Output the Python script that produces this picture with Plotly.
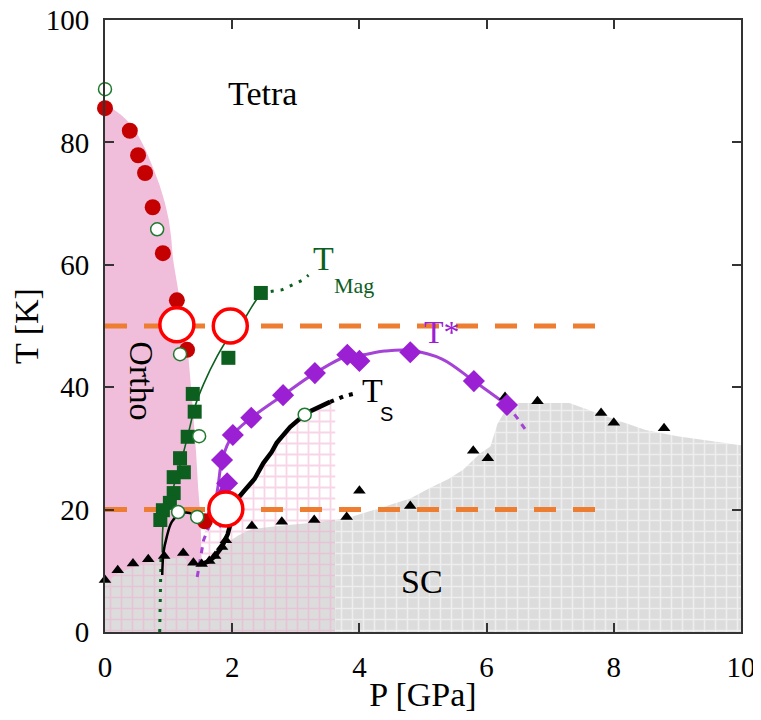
import numpy as np
import plotly.graph_objects as go

# ---------------- data (P in GPa, T in K) ----------------
red_P = [0.0, 0.39, 0.52, 0.63, 0.75, 0.91, 1.13, 1.29, 1.57]
red_T = [85.6, 81.9, 77.9, 75.0, 69.4, 61.9, 54.2, 46.1, 18.1]

gopen_P = [0.0, 0.82, 1.18, 1.48, 3.14, 1.15, 1.45]
gopen_T = [88.7, 65.8, 45.4, 32.0, 35.5, 19.6, 18.8]

gsq_P = [2.45, 1.94, 1.38, 1.41, 1.30, 1.18, 1.24, 1.08, 1.08, 1.02, 0.91, 0.87]
gsq_T = [55.4, 44.8, 38.9, 36.0, 31.9, 28.4, 26.1, 25.3, 22.7, 21.1, 19.9, 18.3]

dia_P = [1.81, 1.92, 1.84, 2.01, 2.30, 2.80, 3.30, 3.81, 4.00, 4.80, 5.80, 6.32]
dia_T = [18.8, 24.3, 28.1, 32.2, 35.0, 38.7, 42.3, 45.3, 44.3, 45.7, 41.0, 37.1]

tri_P = [0.0, 0.2, 0.44, 0.68, 0.93, 1.23, 1.39, 1.52, 1.64, 1.73, 1.84, 1.90,
         2.31, 2.78, 3.29, 3.80, 4.00, 4.80, 5.79, 6.02, 6.29, 6.80, 7.80, 8.00, 8.79]
tri_T = [8.5, 10.1, 11.2, 11.9, 12.4, 12.9, 11.3, 11.1, 11.6, 12.4, 13.9, 15.0,
         17.3, 18.0, 18.3, 18.8, 23.1, 20.6, 29.6, 28.4, 38.4, 37.7, 35.8, 34.2, 33.3]

big_P = [1.13, 1.97, 1.90]
big_T = [50.2, 50.0, 20.1]

# T_Mag line
mag_solid_P = [0.90, 0.92, 1.00, 1.10, 1.20, 1.30, 1.42, 1.55, 1.76, 1.95, 2.17, 2.30, 2.45]
mag_solid_T = [13.0, 18.0, 21.0, 24.5, 28.0, 32.0, 37.0, 40.5, 45.0, 48.2, 50.8, 53.0, 55.4]
mag_dot_top_P = [2.45, 2.78, 3.11, 3.20]
mag_dot_top_T = [55.4, 55.9, 57.5, 58.3]
mag_dot_bot_P = [0.86, 0.87, 0.88]
mag_dot_bot_T = [0.0, 7.0, 12.0]

# T* line
ts_star_P = [1.70, 1.78, 1.84, 2.01, 2.30, 2.80, 3.30, 3.81, 4.00, 4.40, 4.80, 5.30, 5.80, 6.32]
ts_star_T = [19.0, 24.0, 28.1, 32.2, 35.0, 38.7, 42.3, 45.1, 45.2, 45.9, 46.0, 44.6, 41.0, 37.1]
ts_star_dash_hi_P = [6.32, 6.48, 6.65]
ts_star_dash_hi_T = [37.1, 35.0, 32.5]
ts_star_dash_lo_P = [1.45, 1.55, 1.70]
ts_star_dash_lo_T = [9.0, 15.0, 19.0]
ts_star_wedge_P = [1.62, 1.78, 1.92]
ts_star_wedge_T = [18.5, 21.5, 24.5]

# Ts line
tsline_P = [1.52, 1.64, 1.73, 1.84, 1.93, 2.00, 2.07, 2.20, 2.35, 2.49, 2.62, 2.70, 2.91, 3.17, 3.54]
tsline_T = [11.1, 11.6, 12.4, 13.9, 16.0, 19.0, 21.6, 23.2, 25.0, 27.6, 29.4, 30.9, 33.5, 35.8, 37.6]
tsdot_P = [3.54, 3.75, 3.98]
tsdot_T = [37.6, 38.5, 39.1]
arc_P = [0.90, 0.92, 0.97, 1.05, 1.18, 1.30, 1.45]
arc_T = [9.3, 13.0, 15.5, 18.0, 19.3, 19.5, 19.0]

# region boundaries
ortho_P = [0.0, 0.0, 0.12, 0.25, 0.38, 0.5, 0.62, 0.75, 0.85, 0.94, 1.0, 1.04, 1.07,
           1.18, 1.30, 1.37, 1.43, 1.47, 1.50, 1.52, 1.53]
ortho_T = [0.0, 86.0, 85.5, 84.5, 83.2, 81.5, 79.2, 76.0, 73.3, 70.2, 67.5, 64.5, 61.0,
           54.2, 46.0, 38.0, 29.7, 23.0, 18.8, 11.8, 0.0]

sc_P = [0.0, 0.2, 0.44, 0.68, 0.93, 1.23, 1.39, 1.52, 1.64, 1.73, 1.84, 1.95, 2.10, 2.30,
        2.80, 3.30, 3.80, 4.30, 4.80, 5.10, 5.40, 5.63, 5.90, 6.06, 6.17, 6.33, 6.50, 7.30,
        8.00, 8.50, 9.00, 10.0]
sc_T = [8.0, 9.6, 10.6, 11.3, 11.9, 12.2, 10.8, 10.6, 11.1, 11.9, 13.3, 14.8, 15.8, 16.8,
        17.4, 17.9, 18.6, 20.2, 21.8, 23.5, 25.0, 26.5, 29.2, 30.3, 34.0, 36.8, 37.4, 37.4,
        34.8, 33.0, 32.0, 30.5]

pinkgrid_left_P = [1.50, 1.50, 1.60, 1.75, 1.90, 2.00]
pinkgrid_left_T = [0.0, 15.0, 17.0, 19.0, 20.0, 20.5]
split_P = 3.62

orange_P = [0.0, 7.86]
orange_T = [50.0, 20.0]

x_ticks = [0, 2, 4, 6, 8, 10]
y_ticks = [0, 20, 40, 60, 80, 100]

# ---------------- styles ----------------
SERIF = "Liberation Serif"
PINK = "#f0bedb"
PINKLINE = "#f0aacd"
GRAY = "#dcdcdc"
GREEN = "#0c5f1e"
PURPLE = "#9b20d4"
PURPLE_L = "#a443d6"
ORANGE = "#ed7d31"
RED = "#c40000"

fig = go.Figure()

# pink grid on white (below Ts)
pg_P = pinkgrid_left_P + tsline_P[6:] + [split_P, split_P]
pg_T = pinkgrid_left_T + tsline_T[6:] + [37.8, 0.0]
fig.add_trace(go.Scatter(x=pg_P, y=pg_T, mode="none", fill="toself",
                         fillcolor="white",
                         fillpattern=dict(shape="+", bgcolor="white", fgcolor=PINKLINE,
                                          size=11, solidity=0.3),
                         hoverinfo="skip", showlegend=False))

# Ortho region
fig.add_trace(go.Scatter(x=ortho_P, y=ortho_T, mode="lines", fill="toself",
                         line=dict(width=0, color=PINK, shape="spline", smoothing=0.6),
                         fillcolor=PINK, hoverinfo="skip", showlegend=False))

# SC region split at split_P
scP = np.array(sc_P)
scT = np.array(sc_T)
T_split = float(np.interp(split_P, scP, scT))
lm = scP < split_P
left_P = list(scP[lm]) + [split_P, split_P, 0.0]
left_T = list(scT[lm]) + [T_split, 0.0, 0.0]
right_P = [split_P] + list(scP[~lm]) + [10.0, split_P]
right_T = [T_split] + list(scT[~lm]) + [0.0, 0.0]
fig.add_trace(go.Scatter(x=left_P, y=left_T, mode="none", fill="toself",
                         fillcolor=GRAY,
                         fillpattern=dict(shape="+", bgcolor=GRAY, fgcolor=PINKLINE,
                                          size=11, solidity=0.27),
                         hoverinfo="skip", showlegend=False))
fig.add_trace(go.Scatter(x=right_P, y=right_T, mode="none", fill="toself",
                         fillcolor=GRAY,
                         fillpattern=dict(shape="+", bgcolor=GRAY, fgcolor="white",
                                          size=11, solidity=0.27),
                         hoverinfo="skip", showlegend=False))

# orange dashed lines
for t in orange_T:
    fig.add_trace(go.Scatter(x=orange_P, y=[t, t], mode="lines",
                             line=dict(color=ORANGE, width=5, dash="22px,17px"),
                             hoverinfo="skip", showlegend=False))

# T_Mag lines
fig.add_trace(go.Scatter(x=mag_solid_P, y=mag_solid_T, mode="lines",
                         line=dict(color=GREEN, width=1.6, shape="spline"),
                         hoverinfo="skip", showlegend=False))
for xs, ys in [(mag_dot_top_P, mag_dot_top_T), (mag_dot_bot_P, mag_dot_bot_T)]:
    fig.add_trace(go.Scatter(x=xs, y=ys, mode="lines",
                             line=dict(color=GREEN, width=3, dash="3px,7px"),
                             hoverinfo="skip", showlegend=False))

# T* lines
fig.add_trace(go.Scatter(x=ts_star_P, y=ts_star_T, mode="lines",
                         line=dict(color=PURPLE_L, width=3, shape="spline"),
                         hoverinfo="skip", showlegend=False))
fig.add_trace(go.Scatter(x=ts_star_wedge_P, y=ts_star_wedge_T, mode="lines",
                         line=dict(color=PURPLE, width=7),
                         hoverinfo="skip", showlegend=False))
for xs, ys in [(ts_star_dash_hi_P, ts_star_dash_hi_T), (ts_star_dash_lo_P, ts_star_dash_lo_T)]:
    fig.add_trace(go.Scatter(x=xs, y=ys, mode="lines",
                             line=dict(color=PURPLE_L, width=3, dash="6px,6px"),
                             hoverinfo="skip", showlegend=False))

# Ts lines
fig.add_trace(go.Scatter(x=tsline_P, y=tsline_T, mode="lines",
                         line=dict(color="black", width=4.5),
                         hoverinfo="skip", showlegend=False))
fig.add_trace(go.Scatter(x=tsdot_P, y=tsdot_T, mode="lines",
                         line=dict(color="black", width=4, dash="4px,6px"),
                         hoverinfo="skip", showlegend=False))
fig.add_trace(go.Scatter(x=arc_P, y=arc_T, mode="lines",
                         line=dict(color="black", width=2.5, shape="spline"),
                         hoverinfo="skip", showlegend=False))

# markers
fig.add_trace(go.Scatter(x=tri_P, y=tri_T, mode="markers", cliponaxis=False,
                         marker=dict(symbol="triangle-up", size=11, color="black"),
                         hoverinfo="skip", showlegend=False))
fig.add_trace(go.Scatter(x=gsq_P, y=gsq_T, mode="markers", cliponaxis=False,
                         marker=dict(symbol="square", size=14, color=GREEN),
                         hoverinfo="skip", showlegend=False))
fig.add_trace(go.Scatter(x=red_P, y=red_T, mode="markers", cliponaxis=False,
                         marker=dict(symbol="circle", size=16, color=RED),
                         hoverinfo="skip", showlegend=False))
fig.add_trace(go.Scatter(x=gopen_P, y=gopen_T, mode="markers", cliponaxis=False,
                         marker=dict(symbol="circle", size=13, color="white",
                                     line=dict(color="#1f7a2f", width=1.5)),
                         hoverinfo="skip", showlegend=False))
fig.add_trace(go.Scatter(x=dia_P, y=dia_T, mode="markers", cliponaxis=False,
                         marker=dict(symbol="diamond", size=17, color=PURPLE),
                         hoverinfo="skip", showlegend=False))
fig.add_trace(go.Scatter(x=big_P, y=big_T, mode="markers", cliponaxis=False,
                         marker=dict(symbol="circle", size=34, color="white",
                                     line=dict(color="#ff0000", width=3.5)),
                         hoverinfo="skip", showlegend=False))

def ann(x, y, text, size, color="black", family=SERIF, angle=0):
    fig.add_annotation(x=x, y=y, xref="x", yref="y", text=text, showarrow=False,
                       textangle=angle, font=dict(family=family, size=size, color=color))

ann(2.47, 88.0, "Tetra", 34)
ann(0.58, 41.0, "Ortho", 34, angle=90)
ann(4.98, 8.2, "SC", 34)
ann(3.44, 61.0, "T", 34, color=GREEN)
ann(3.92, 56.6, "Mag", 22, color=GREEN)
ann(5.30, 49.0, "T*", 32, color=PURPLE)
ann(4.20, 39.4, "T", 34)
ann(4.43, 35.6, "S", 20, family="Liberation Sans")

axis_common = dict(showline=True, mirror="ticks", linecolor="#333333", linewidth=2,
                   ticks="inside", ticklen=9, tickwidth=1.5, tickcolor="#333333",
                   showgrid=False, zeroline=False, automargin=False,
                   ticklabelstandoff=8, ticklabeloverflow="allow",
                   tickfont=dict(family=SERIF, size=29, color="black"))
fig.update_xaxes(range=[0, 10], tickvals=x_ticks,
                 title=dict(text="P [GPa]", font=dict(family=SERIF, size=34, color="black"),
                            standoff=0),
                 **axis_common)
fig.update_yaxes(range=[0, 100], tickvals=y_ticks,
                 title=dict(text="T [K]", font=dict(family=SERIF, size=34, color="black"),
                            standoff=4),
                 **axis_common)

# the page body adds an 8 px offset; size the figure so the plot area lands at
# x 105..741, y 20..632 of the 761x720 window
fig.update_layout(width=753, height=712, margin=dict(l=97, r=20, t=12, b=88),
                  paper_bgcolor="white", plot_bgcolor="white", showlegend=False)

fig.write_html("out.html")
